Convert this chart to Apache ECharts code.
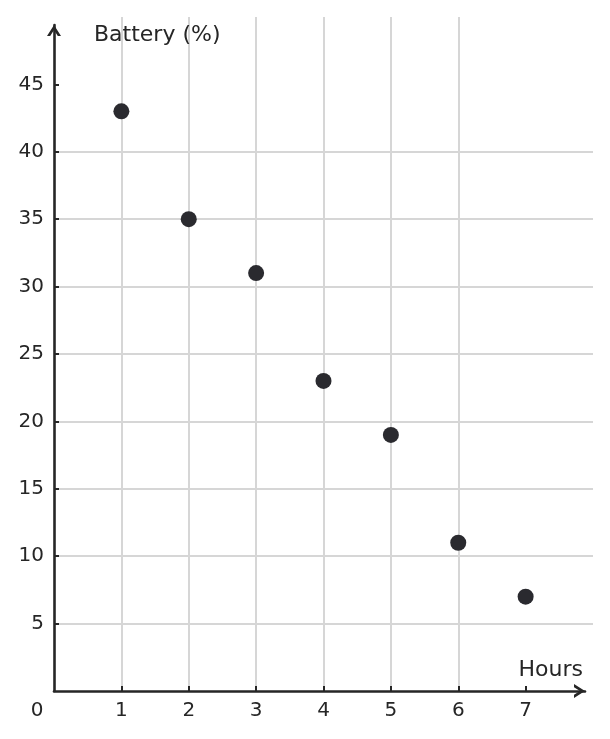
<!DOCTYPE html>
<html>
<head>
<meta charset="utf-8">
<title>Battery</title>
<script src="https://cdn.jsdelivr.net/npm/echarts@6/dist/echarts.min.js"></script>
<style>
  html, body { margin: 0; padding: 0; background: #fff; }
  #main { width: 610px; height: 739px; }
</style>
</head>
<body>
<div id="main"></div>
<script>
// data
var hours = [1, 2, 3, 4, 5, 6, 7];
var battery = [43, 35, 31, 23, 19, 11, 7];
// tick positions that carry a tick mark / label
var xTicks = [1, 2, 3, 4, 5, 6, 7];
var xLabels = [0, 1, 2, 3, 4, 5, 6, 7];
var yTicks = [5, 10, 15, 20, 25, 30, 35, 40, 45];

var axisColor = '#262626';
var gridColor = '#d6d6d6';
var font = 'DejaVu Sans';
// open chevron arrow, tip pointing up (rotated by echarts)
var chevron = 'path://M0,11 L7,0 L14,11 L10.8,11 L7,5 L3.2,11 Z';

var points = [];
for (var i = 0; i < hours.length; i++) {
  points.push([hours[i], battery[i]]);
}

// axis line with the arrow, on its own (slightly shorter) grid
function arrowAxis(gridIndex) {
  return {
    type: 'value',
    gridIndex: gridIndex,
    min: 0,
    max: 1,
    axisLine: {
      show: true,
      symbol: ['none', chevron],
      symbolSize: [14, 11],
      symbolOffset: [0, -5.5],
      lineStyle: { color: axisColor, width: 2.6 }
    },
    axisTick: { show: false },
    axisLabel: { show: false },
    splitLine: { show: false }
  };
}

var option = {
  animation: false,
  grid: [
    { left: 54, right: 17, top: 17, bottom: 48 },
    { left: 54, right: 25, top: 25, bottom: 48 }
  ],
  xAxis: [
    {
      type: 'value',
      gridIndex: 0,
      min: 0,
      max: 8,
      interval: 1,
      name: 'Hours',
      nameLocation: 'end',
      nameGap: -10,
      nameTextStyle: {
        fontFamily: font,
        fontSize: 22,
        color: axisColor,
        align: 'right',
        verticalAlign: 'bottom',
        padding: [0, 0, 10, 0]
      },
      axisLine: { show: false },
      axisTick: {
        show: true,
        inside: true,
        length: 5,
        customValues: xTicks,
        lineStyle: { color: axisColor, width: 2 }
      },
      axisLabel: {
        margin: 10,
        fontFamily: font,
        fontSize: 20,
        color: axisColor,
        customValues: xLabels,
        formatter: function (v) {
          if (v === 0) return '{z|0}';
          return v;
        },
        rich: {
          z: { fontFamily: font, fontSize: 20, color: axisColor, padding: [0, 34, 0, 0] }
        }
      },
      splitLine: {
        show: true,
        showMaxLine: false,
        lineStyle: { color: gridColor, width: 2 }
      }
    },
    arrowAxis(1)
  ],
  yAxis: [
    {
      type: 'value',
      gridIndex: 0,
      min: 0,
      max: 50,
      interval: 5,
      name: 'Battery (%)',
      nameLocation: 'end',
      nameGap: -18,
      nameTextStyle: {
        fontFamily: font,
        fontSize: 22,
        color: axisColor,
        align: 'left',
        verticalAlign: 'middle',
        padding: [0, 0, 0, 40]
      },
      axisLine: { show: false },
      axisTick: {
        show: true,
        inside: true,
        length: 5,
        customValues: yTicks,
        lineStyle: { color: axisColor, width: 2 }
      },
      axisLabel: {
        margin: 10,
        fontFamily: font,
        fontSize: 20,
        color: axisColor,
        customValues: yTicks
      },
      splitLine: {
        show: true,
        showMaxLine: false,
        lineStyle: { color: gridColor, width: 2 }
      }
    },
    arrowAxis(1)
  ],
  series: [
    {
      name: 'Battery',
      type: 'scatter',
      xAxisIndex: 0,
      yAxisIndex: 0,
      data: points,
      symbol: 'circle',
      symbolSize: 16,
      itemStyle: { color: '#2a2a2f', opacity: 1 },
      z: 3
    }
  ]
};

var myChart = echarts.init(document.getElementById('main'));
myChart.setOption(option);
</script>
</body>
</html>
